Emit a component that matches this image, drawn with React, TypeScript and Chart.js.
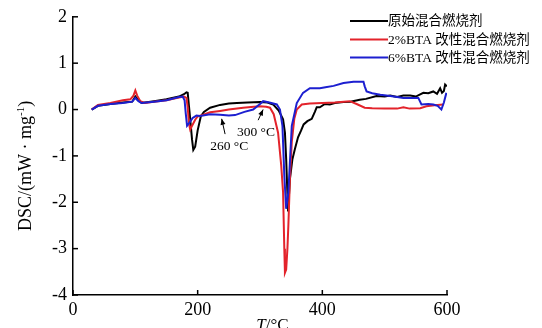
import React, { useEffect, useRef } from "react";
import { Chart, registerables } from "chart.js";

Chart.register(...registerables);

// ---- Data (T in °C, DSC in mW·mg^-1) ----
const rawT = [30, 40, 60, 80, 95, 100, 105, 110, 130, 150, 170, 178, 182, 184, 188, 191, 193, 196, 200, 205, 210, 220, 236, 250, 263, 280, 300, 312, 321, 330, 337, 340, 342, 345, 348, 352, 356, 361, 366, 370, 376, 383, 388, 391, 396, 404, 412, 420, 434, 445, 460, 470, 487, 500, 509, 520, 530, 541, 550, 562, 570, 578, 584, 589, 592, 595, 597, 600];
const rawV = [0.0, 0.08, 0.12, 0.15, 0.17, 0.28, 0.2, 0.14, 0.18, 0.22, 0.28, 0.33, 0.37, 0.36, -0.2, -0.65, -0.87, -0.8, -0.45, -0.15, -0.05, 0.04, 0.1, 0.13, 0.14, 0.15, 0.16, 0.15, 0.11, -0.02, -0.21, -0.5, -1.07, -2.2, -1.5, -1.07, -0.85, -0.6, -0.45, -0.32, -0.25, -0.2, -0.05, 0.05, 0.05, 0.12, 0.11, 0.14, 0.16, 0.17, 0.21, 0.23, 0.29, 0.28, 0.3, 0.27, 0.3, 0.3, 0.28, 0.36, 0.35, 0.39, 0.34, 0.46, 0.36, 0.4, 0.54, 0.5];

const bta2T = [30, 40, 60, 80, 92, 97, 100, 103, 108, 115, 130, 150, 170, 178, 182, 184, 186, 188, 191, 196, 200, 209, 220, 236, 250, 273, 290, 300, 310, 316, 322, 329, 334, 337, 339, 340, 342, 344, 345.5, 348, 351, 355, 359, 367, 380, 400, 420, 444, 455, 468, 480, 500, 520, 530, 540, 557, 567, 580, 594];
const bta2V = [0.0, 0.1, 0.14, 0.2, 0.22, 0.3, 0.41, 0.3, 0.18, 0.14, 0.17, 0.2, 0.26, 0.28, 0.25, 0.05, -0.3, -0.43, -0.35, -0.22, -0.15, -0.11, -0.06, -0.03, 0.0, 0.04, 0.06, 0.07, 0.06, 0.04, -0.1, -0.5, -1.2, -1.78, -3.0, -3.52, -3.45, -3.0, -2.5, -1.5, -0.7, -0.2, 0.0, 0.11, 0.13, 0.14, 0.15, 0.18, 0.12, 0.04, 0.03, 0.02, 0.02, 0.05, 0.02, 0.03, 0.07, 0.09, 0.11];

const bta6T = [30, 40, 60, 80, 95, 100, 105, 110, 130, 150, 170, 176, 179, 181, 183, 186, 192, 198, 204, 220, 236, 250, 260, 275, 289, 300, 305, 315, 327, 332, 336, 339, 342, 345.5, 351, 359, 369, 380, 396, 405, 418, 434, 450, 460, 466, 468, 471, 480, 493, 509, 520, 530, 541, 554, 559, 570, 578, 585, 591, 595, 599];
const bta6V = [0.0, 0.08, 0.12, 0.14, 0.17, 0.25, 0.18, 0.14, 0.17, 0.2, 0.27, 0.28, 0.2, -0.1, -0.35, -0.3, -0.18, -0.13, -0.14, -0.1, -0.11, -0.13, -0.12, -0.05, 0.0, 0.12, 0.18, 0.15, 0.11, 0.0, -0.35, -1.42, -2.14, -1.78, -0.35, 0.14, 0.36, 0.46, 0.46, 0.48, 0.51, 0.57, 0.6, 0.6, 0.6, 0.5, 0.39, 0.35, 0.32, 0.29, 0.27, 0.25, 0.25, 0.25, 0.11, 0.12, 0.11, 0.08, 0.0, 0.15, 0.36];

const xTicks = [0, 200, 400, 600];
const yTicks = [-4, -3, -2, -1, 0, 1, 2];
const seriesNames = ["原始混合燃烧剂", "2%BTA 改性混合燃烧剂", "6%BTA 改性混合燃烧剂"];
const seriesColors = ["#000000", "#e3232b", "#1c1fd0"];

// annotations in data coordinates
const notes = [
  { text: "260 °C", tx: 220, ty: -0.8, from: [244, -0.53], to: [238.5, -0.2] },
  { text: "300 °C", tx: 263, ty: -0.5, from: [297, -0.23], to: [305, 0.0] },
];
const xTitleAt = 320; // T value under which the x title is centred

const SERIF = "'Liberation Serif', 'Times New Roman', serif";
const MIXED = "'Liberation Serif', 'Noto Sans CJK SC', serif";

const pts = (t: number[], v: number[]) => t.map((x, i) => ({ x, y: v[i] }));

const decorPlugin = {
  id: "decor",
  afterDraw(chart: any) {
    const ctx = chart.ctx as CanvasRenderingContext2D;
    const xs = chart.scales.x;
    const ys = chart.scales.y;
    const area = chart.chartArea;
    ctx.save();
    ctx.strokeStyle = "#000";
    ctx.lineWidth = 1.5;
    // inward ticks
    yTicks.forEach((v) => {
      const py = ys.getPixelForValue(v);
      ctx.beginPath();
      ctx.moveTo(area.left, py);
      ctx.lineTo(area.left + 5, py);
      ctx.stroke();
    });
    xTicks.forEach((v) => {
      const px = xs.getPixelForValue(v);
      ctx.beginPath();
      ctx.moveTo(px, area.bottom);
      ctx.lineTo(px, area.bottom - 5);
      ctx.stroke();
    });

    // annotations
    ctx.fillStyle = "#000";
    ctx.font = `13.5px ${SERIF}`;
    ctx.textBaseline = "middle";
    ctx.textAlign = "left";
    notes.forEach((n) => {
      ctx.fillText(n.text, xs.getPixelForValue(n.tx), ys.getPixelForValue(n.ty));
      const x0 = xs.getPixelForValue(n.from[0]);
      const y0 = ys.getPixelForValue(n.from[1]);
      const x1 = xs.getPixelForValue(n.to[0]);
      const y1 = ys.getPixelForValue(n.to[1]);
      ctx.lineWidth = 1;
      ctx.beginPath();
      ctx.moveTo(x0, y0);
      ctx.lineTo(x1, y1);
      ctx.stroke();
      const ang = Math.atan2(y1 - y0, x1 - x0);
      const L = 6, W = 2.5;
      ctx.beginPath();
      ctx.moveTo(x1, y1);
      ctx.lineTo(x1 - L * Math.cos(ang) + W * Math.sin(ang), y1 - L * Math.sin(ang) - W * Math.cos(ang));
      ctx.lineTo(x1 - L * Math.cos(ang) - W * Math.sin(ang), y1 - L * Math.sin(ang) + W * Math.cos(ang));
      ctx.closePath();
      ctx.fill();
    });

    // legend
    const lx0 = area.right - 97;
    const lx1 = area.right - 59;
    const rows = [21, 39.5, 57.5];
    ctx.font = `13.5px ${MIXED}`;
    seriesNames.forEach((name, i) => {
      ctx.strokeStyle = seriesColors[i];
      ctx.lineWidth = 2;
      ctx.beginPath();
      ctx.moveTo(lx0, rows[i]);
      ctx.lineTo(lx1, rows[i]);
      ctx.stroke();
      ctx.fillStyle = "#000";
      ctx.fillText(name, lx1, rows[i] + 0.5);
    });

    // x title
    const cx = xs.getPixelForValue(xTitleAt);
    ctx.textBaseline = "top";
    ctx.font = `italic 17px ${SERIF}`;
    const tW = ctx.measureText("T").width;
    ctx.font = `17px ${SERIF}`;
    const rW = ctx.measureText("/°C").width;
    const sx = cx - (tW + rW) / 2;
    ctx.font = `italic 17px ${SERIF}`;
    ctx.fillText("T", sx, 317);
    ctx.font = `17px ${SERIF}`;
    ctx.fillText("/°C", sx + tW, 317);

    // y title rotated with superscript
    ctx.save();
    ctx.translate(25, (area.top + area.bottom) / 2 + 10);
    ctx.rotate(-Math.PI / 2);
    ctx.textBaseline = "alphabetic";
    const p1 = "DSC/(mW · mg";
    const sup = "-1";
    const p3 = ")";
    ctx.font = `18px ${SERIF}`;
    const w1 = ctx.measureText(p1).width;
    const w3 = ctx.measureText(p3).width;
    ctx.font = `11px ${SERIF}`;
    const w2 = ctx.measureText(sup).width;
    let x = -(w1 + w2 + w3) / 2;
    const base = 6;
    ctx.font = `18px ${SERIF}`;
    ctx.fillText(p1, x, base);
    x += w1;
    ctx.font = `11px ${SERIF}`;
    ctx.fillText(sup, x, base - 7);
    x += w2;
    ctx.font = `18px ${SERIF}`;
    ctx.fillText(p3, x, base);
    ctx.restore();

    ctx.restore();
  },
};

export default function App() {
  const ref = useRef<HTMLCanvasElement | null>(null);
  useEffect(() => {
    if (!ref.current) return;
    const mk = (label: string, data: any, color: string) => ({
      label,
      data,
      borderColor: color,
      backgroundColor: color,
      borderWidth: 2,
      pointRadius: 0,
      tension: 0,
      fill: false,
    });
    const chart = new Chart(ref.current, {
      type: "line",
      data: {
        datasets: [
          mk(seriesNames[2], pts(bta6T, bta6V), seriesColors[2]),
          mk(seriesNames[1], pts(bta2T, bta2V), seriesColors[1]),
          mk(seriesNames[0], pts(rawT, rawV), seriesColors[0]),
        ],
      },
      options: {
        animation: false,
        responsive: false,
        layout: { padding: { top: 14, right: 95, left: 0, bottom: 0 } },
        plugins: { legend: { display: false }, tooltip: { enabled: false }, title: { display: false } },
        scales: {
          x: {
            type: "linear",
            min: 0,
            max: 600,
            ticks: {
              stepSize: 200,
              color: "#000",
              padding: 4,
              font: { family: SERIF, size: 18 },
              maxRotation: 0,
            },
            grid: { display: false, drawTicks: false },
            border: { display: true, color: "#000", width: 1.5 },
            afterFit: (s: any) => {
              s.height = 33;
            },
          },
          y: {
            type: "linear",
            min: -4,
            max: 2,
            ticks: {
              stepSize: 1,
              color: "#000",
              padding: 6,
              font: { family: SERIF, size: 18 },
            },
            grid: { display: false, drawTicks: false },
            border: { display: true, color: "#000", width: 1.5 },
            afterFit: (s: any) => {
              s.width = 73;
            },
          },
        },
      },
      plugins: [decorPlugin],
    });
    return () => chart.destroy();
  }, []);
  return (
    <div style={{ position: "absolute", left: 0, top: 0, width: 542, height: 328, background: "#fff" }}>
      <canvas ref={ref} width={542} height={328} style={{ display: "block" }} />
    </div>
  );
}
